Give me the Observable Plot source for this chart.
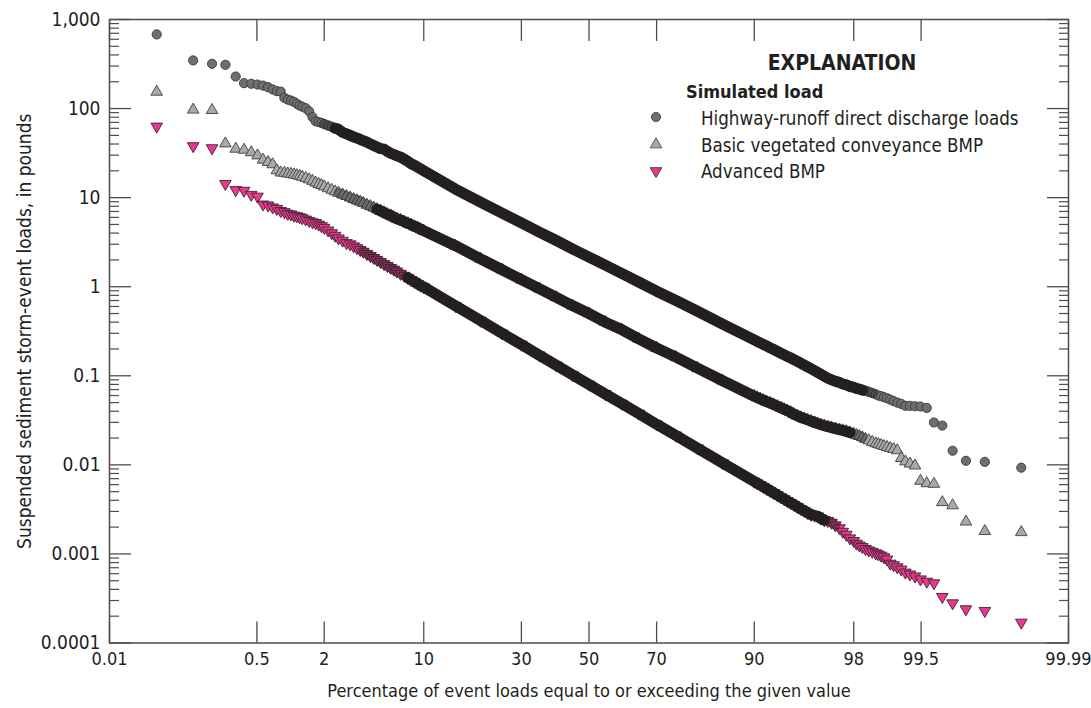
<!DOCTYPE html>
<html><head><meta charset="utf-8">
<script src="https://cdn.jsdelivr.net/npm/d3@7"></script>
<script src="https://cdn.jsdelivr.net/npm/@observablehq/plot@0.6"></script>
<style>
body{margin:0;background:#fff;}
#wrap{position:relative;width:1091px;height:708px;}
#legend{position:absolute;left:0;top:0;pointer-events:none;}
</style></head><body>
<div id="wrap"></div>
<script>
const FONT = '"Liberation Sans Narrow","DejaVu Sans Condensed","Roboto Condensed","Arial Narrow",sans-serif';

// Exceedance probability (percent) of each plotted event load, shared by the three series
const exceedance = [
 0.04,0.107,0.173,0.24,0.307,0.373,0.44,0.507,0.573,0.64,0.707,0.773,0.84,0.907,0.973,1.04,1.107,1.173,1.24,1.307,
 1.4,1.5,1.6,1.7,1.8,1.9,2.0,2.15,2.3,2.45,2.6,2.8,3.0,3.2,3.4,3.6,3.8,4.0,4.25,4.5,4.75,5.0,5.3,5.6,5.9,6.2,6.5,6.8,7.2,7.6,8.0,8.4,8.8,9.2,9.6,10,
 15,20,25,30,35,40,45,50,55,60,65,70,75,80,85,90,
 90.4,90.8,91.2,91.6,92.0,92.4,92.8,93.2,93.5,93.8,94.1,94.4,94.7,95.0,95.25,95.5,95.75,96.0,96.2,96.4,96.6,96.8,97.0,97.2,97.4,97.55,97.7,97.85,98.0,98.1,98.2,98.3,98.4,98.5,98.6,
 98.693,98.76,98.827,98.893,98.96,99.027,99.093,99.16,99.227,99.293,99.36,99.427,99.493,99.56,99.627,99.693,99.76,99.827,99.893,99.96
];
// Highway-runoff direct discharge loads (pounds)
const highway = [
 680,347,318,310,229,193,190,186,181,174,164,157,155,132,126,123,119,113,108,105,
 101,93,80,72,70.5,69,67,64.5,62.5,60,58.5,54,52,50,48,46.5,45,43.5,42,40,38.5,37,35.5,35,33,31.5,30.5,29.5,28.5,27,25.5,24,23,22,21,20,
 12.5,8.9,6.7,5.2,4.1,3.3,2.65,2.15,1.75,1.41,1.13,0.89,0.70,0.53,0.38,0.253,
 0.243,0.234,0.225,0.216,0.206,0.197,0.188,0.178,0.172,0.165,0.159,0.152,0.145,0.138,0.132,0.126,0.12,0.114,0.109,0.104,0.099,0.094,0.090,0.087,0.084,0.081,0.079,0.076,0.074,0.072,0.071,0.069,0.068,0.066,0.064,
 0.062,0.060,0.059,0.0575,0.056,0.054,0.052,0.050,0.0484,0.046,0.046,0.0455,0.0452,0.0436,0.0299,0.0276,0.0144,0.0111,0.0108,0.0093
];
// Basic vegetated conveyance BMP (pounds)
const basic = [
 154,97,96,40.5,35.3,34.4,32.2,29.7,26.6,25,23.6,20.2,19.1,18.9,18.6,18.4,18.1,17.8,17.5,17.1,
 16.6,16.0,15.4,14.7,14.2,13.8,13.3,12.7,12.2,11.7,11.3,10.8,10.4,10.0,9.6,9.3,9.0,8.7,8.3,8.0,7.7,7.4,7.1,6.8,6.5,6.3,6.0,5.8,5.6,5.35,5.15,4.95,4.75,4.6,4.4,4.25,
 2.89,2.06,1.55,1.2,0.95,0.76,0.61,0.50,0.40,0.33,0.26,0.205,0.162,0.122,0.088,0.059,
 0.057,0.055,0.053,0.051,0.0495,0.0475,0.0455,0.0435,0.042,0.0405,0.039,0.037,0.0355,0.034,0.033,0.032,0.031,0.0298,0.029,0.0282,0.0275,0.0268,0.0262,0.0255,0.0248,0.0243,0.0238,0.023,0.0222,0.0215,0.021,0.0203,0.0195,0.0188,0.018,
 0.0174,0.0170,0.0166,0.0162,0.0158,0.0154,0.0150,0.0145,0.0119,0.0109,0.0103,0.0098,0.0066,0.0062,0.0061,0.0038,0.0035,0.0023,0.0018,0.00175
];
// Advanced BMP (pounds)
const advanced = [
 63,38,36,14.3,12.2,12.0,10.8,10.3,8.4,8.2,7.8,7.5,7.1,6.9,6.6,6.5,6.3,6.2,6.05,5.9,
 5.7,5.5,5.3,5.2,5.0,4.8,4.6,4.3,4.0,3.75,3.5,3.3,3.1,3.0,2.85,2.72,2.59,2.48,2.34,2.22,2.11,2.01,1.90,1.80,1.71,1.63,1.56,1.49,1.40,1.33,1.26,1.19,1.135,1.08,1.03,0.99,
 0.61,0.417,0.30,0.224,0.170,0.131,0.102,0.080,0.0626,0.0488,0.0377,0.0285,0.0214,0.0154,0.0105,0.0065,
 0.00622,0.00594,0.00567,0.00539,0.00512,0.00484,0.00459,0.00432,0.00413,0.00394,0.00375,0.00357,0.00338,0.00319,0.00305,0.0029,0.00276,0.0027,0.00265,0.0025,0.0024,0.00235,0.00225,0.0021,0.00195,0.00178,0.00165,0.0015,0.0014,0.00131,0.00125,0.0012,0.00114,0.0011,0.00106,
 0.00102,0.00099,0.00096,0.00092,0.00087,0.00078,0.00075,0.00071,0.00067,0.00062,0.00059,0.00056,0.00052,0.00049,0.00047,0.00033,0.00028,0.00024,0.00023,0.00017
];

const seriesNames = ["Highway-runoff direct discharge loads","Basic vegetated conveyance BMP","Advanced BMP"];
const xTickLabels = [0.01,0.5,2,10,30,50,70,90,98,99.5,99.99];
const yTickValues = [0.0001,0.001,0.01,0.1,1,10,100,1000];
const yTickLabels = ["0.0001","0.001","0.01","0.1","1","10","100","1,000"];
const yMinorMultipliers = [2,3,4,5,6,7,8,9];

function probit(p){
  const a=[-39.69683028665376,220.9460984245205,-275.9285104469687,138.3577518672690,-30.66479806614716,2.506628277459239];
  const b=[-54.47609879822406,161.5858368580409,-155.6989798598866,66.80131188771972,-13.28068155288572];
  const c=[-0.007784894002430293,-0.3223964580411365,-2.400758277161838,-2.549732539343734,4.374664141464968,2.938163982698783];
  const d=[0.007784695709041462,0.3224671290700398,2.445134137142996,3.754408145737664];
  const pl=0.02425, ph=1-pl; let q,r;
  if(p<pl){q=Math.sqrt(-2*Math.log(p));return (((((c[0]*q+c[1])*q+c[2])*q+c[3])*q+c[4])*q+c[5])/((((d[0]*q+d[1])*q+d[2])*q+d[3])*q+1);}
  if(p<=ph){q=p-0.5;r=q*q;return (((((a[0]*r+a[1])*r+a[2])*r+a[3])*r+a[4])*r+a[5])*q/(((((b[0]*r+b[1])*r+b[2])*r+b[3])*r+b[4])*r+1);}
  q=Math.sqrt(-2*Math.log(1-p));return -(((((c[0]*q+c[1])*q+c[2])*q+c[3])*q+c[4])*q+c[5])/((((d[0]*q+d[1])*q+d[2])*q+d[3])*q+1);
}

const triangleDown = {draw(ctx, size){
  const y = -Math.sqrt(size / (Math.sqrt(3) * 3));
  ctx.moveTo(0, -2 * y); ctx.lineTo(-Math.sqrt(3) * y, y); ctx.lineTo(Math.sqrt(3) * y, y); ctx.closePath();
}};

const rows = exceedance.map((p, i) => ({p, z: probit(p / 100), highway: highway[i], basic: basic[i], advanced: advanced[i]}));

// band: where the markers merge into a solid dark band; halo: wider range of partial overlap
const series = [
  {key:"highway", name:seriesNames[0], symbol:"circle", r:4.6, fill:"#6d6e71", stroke:"#39393b", band:[2.45, 98.3], halo:[2.0, 98.6]},
  {key:"basic", name:seriesNames[1], symbol:"triangle", r:4.3, fill:"#a7a9ac", stroke:"#3f3f41", band:[5, 97.85], halo:[2.6, 98.3]},
  {key:"advanced", name:seriesNames[2], symbol:triangleDown, r:4.3, fill:"#e9398f", stroke:"#3b2330", band:[8, 96.6], halo:[4.0, 97.2]}
];

const xTicksZ = xTickLabels.map(p => probit(p / 100));
const xLabelByZ = new Map(xTicksZ.map((z, i) => [z, String(xTickLabels[i])]));
const yLabelByV = new Map(yTickValues.map((v, i) => [v, yTickLabels[i]]));
const yMinor = [];
for (const v of yTickValues.slice(0, -1)) for (const m of yMinorMultipliers) yMinor.push(+(v * m).toPrecision(3));

const axisColor = "#4d4d4f";
const textColor = "#231f20";
const blank = () => "";

const marks = [
  Plot.frame({stroke: axisColor, strokeWidth: 1.5}),
  Plot.axisX(xTicksZ, {anchor:"bottom", tickSize:-21, tickPadding:30, stroke:axisColor, strokeWidth:1.3, fill:textColor, fontSize:18,
    tickFormat: d => xLabelByZ.get(d), label:"Percentage of event loads equal to or exceeding the given value",
    labelAnchor:"center", labelOffset:54, labelArrow:"none"}),
  Plot.axisX(xTicksZ, {anchor:"top", tickSize:-21, stroke:axisColor, strokeWidth:1.3, tickFormat: blank, label:null}),
  Plot.axisY(yTickValues, {anchor:"left", tickSize:-22, tickPadding:31, stroke:axisColor, strokeWidth:1.3, fill:textColor, fontSize:18,
    tickFormat: d => yLabelByV.get(d), label:"Suspended sediment storm-event loads, in pounds",
    labelAnchor:"center", labelOffset:92, labelArrow:"none", fontSize:19}),
  Plot.axisY(yMinor, {anchor:"left", tickSize:-10, stroke:axisColor, strokeWidth:1.2, tickFormat: blank, label:null}),
  Plot.axisY(yTickValues, {anchor:"right", tickSize:-22, stroke:axisColor, strokeWidth:1.3, tickFormat: blank, label:null}),
  Plot.axisY(yMinor, {anchor:"right", tickSize:-10, stroke:axisColor, strokeWidth:1.2, tickFormat: blank, label:null})
];
for (const s of series) {
  marks.push(Plot.dot(rows, {x:"z", y:s.key, symbol:s.symbol, r:s.r, fill:s.fill, stroke:s.stroke, strokeWidth:0.9}));
  marks.push(Plot.line(rows.filter(d => d.p >= s.halo[0] && d.p <= s.halo[1]),
    {x:"z", y:s.key, stroke:"#231f20", strokeOpacity:0.45, strokeWidth:10, strokeLinecap:"round", strokeLinejoin:"round"}));
  marks.push(Plot.line(rows.filter(d => d.p >= s.band[0] && d.p <= s.band[1]),
    {x:"z", y:s.key, stroke:"#231f20", strokeWidth:11, strokeLinecap:"round", strokeLinejoin:"round"}));
}

const chart = Plot.plot({
  width:1091, height:708,
  marginLeft:109, marginRight:23, marginTop:19, marginBottom:65.5,
  style:{fontFamily:FONT, fontSize:"18px", color:textColor, background:"#fff", overflow:"visible"},
  x:{type:"linear", domain:[probit(0.0001), probit(0.9999)]},
  y:{type:"log", domain:[0.0001, 1000]},
  marks
});
const wrap = document.getElementById("wrap");
wrap.appendChild(chart);

// Explanation (legend)
const leg = d3.select(wrap).append("svg").attr("id","legend").attr("width",1091).attr("height",708)
  .style("font-family", FONT).attr("fill", textColor);
leg.append("text").attr("x",842).attr("y",70).attr("text-anchor","middle").attr("font-size",21).attr("font-weight","bold").text("EXPLANATION");
leg.append("text").attr("x",686).attr("y",98).attr("font-size",18).attr("font-weight","bold").text("Simulated load");
const legY = [117, 144.5, 171];
const legBase = [124.5, 151.5, 178];
series.forEach((s, i) => {
  const sym = typeof s.symbol === "string" ? (s.symbol === "circle" ? d3.symbolCircle : d3.symbolTriangle) : s.symbol;
  leg.append("path").attr("transform",`translate(656,${legY[i]})`)
    .attr("d", d3.symbol(sym, Math.PI * s.r * s.r)()).attr("fill", s.fill).attr("stroke", s.stroke).attr("stroke-width",0.8);
  leg.append("text").attr("x",701).attr("y",legBase[i]).attr("font-size",18.6).text(s.name);
});
</script>
</body></html>
